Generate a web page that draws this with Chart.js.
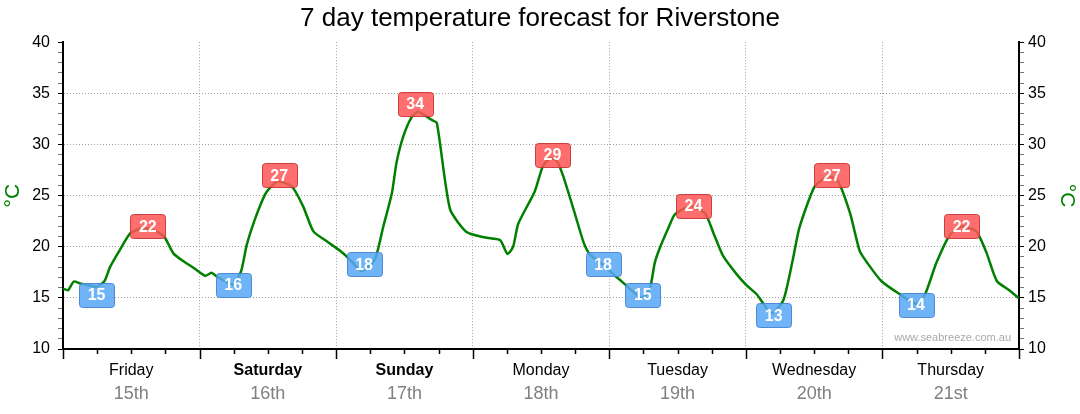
<!DOCTYPE html>
<html>
<head>
<meta charset="utf-8">
<title>7 day temperature forecast for Riverstone</title>
<script src="https://cdn.jsdelivr.net/npm/chart.js@4.4.0/dist/chart.umd.min.js"></script>
<style>
  html, body { margin: 0; padding: 0; background: #fff; }
  #wrap { width: 1080px; height: 414px; }
</style>
</head>
<body>
<div id="wrap"><canvas id="tempChart" width="1080" height="414"></canvas></div>
<script>
// days along the bottom
const dayNames = ["Friday", "Saturday", "Sunday", "Monday", "Tuesday", "Wednesday", "Thursday"];
const dayDates = ["15th", "16th", "17th", "18th", "19th", "20th", "21st"];
const weekendDays = ["Saturday", "Sunday"];

// forecast line: hours since Friday 00:00 and temperature (°C)
const hours = [0, 0.9, 1.9, 3, 6, 7.3, 8.3, 10, 11.8, 13.5, 15.3, 17, 17.9, 19.4, 21.1, 22.9,
  25, 26.1, 27, 29.9, 31.3, 32.3, 33.7, 35.5, 36.7, 37.8, 40.2, 42.2, 44, 46.3, 48.7,
  50.4, 52.5, 54.8, 56.3, 57.8, 58.6, 59.8, 61.3, 62.4, 64.8, 65.7, 68, 70.9,
  74.2, 76.8, 78.1, 79.1, 80, 82.9, 84.3, 85.6, 86.8, 87.9, 90, 91.5, 92.6, 95.2,
  97, 97.8, 98.8, 101.7, 103.1, 104, 104.9, 106.4, 107.5, 110.2, 112.8, 114.3, 116, 118.4,
  120.1, 121.9, 124.5, 126.6, 128.2, 129.4, 132.1, 134.5, 136.2, 138.3, 140, 141.5, 143.8,
  146.8, 150, 151.5, 153.5, 155.9, 157.9, 160.5, 162.3, 164.1, 166.4, 168];
const temps = [15.9, 15.75, 16.6, 16.4, 16.1, 16.65, 18.05, 19.7, 21.3, 21.75, 21.75, 21.3, 20.9, 19.35, 18.6, 17.95,
  17.15, 17.45, 17.1, 16.3, 17.6, 20.2, 22.65, 25.1, 25.95, 26.4, 25.9, 23.95, 21.5, 20.55, 19.6,
  18.75, 17.6, 18.75, 22, 25.25, 28.2, 30.8, 32.7, 33.2, 32.4, 32.1, 23.7, 21.45,
  20.9, 20.65, 19.3, 20, 22.25, 25.4, 27.85, 28.65, 28.35, 26.9, 23.15, 20.4, 19.25, 18.1,
  17.15, 16.8, 16.3, 15, 15.85, 18.45, 19.9, 21.85, 23.15, 23.95, 23.3, 21.35, 19.1, 17.3,
  16.25, 15.35, 13.5, 14.8, 18.6, 21.85, 25.9, 26.9, 26.4, 23.3, 19.6, 18.3, 16.65,
  15.45, 14.4, 15.35, 18.45, 21.2, 22, 21.5, 19.4, 16.65, 15.7, 14.95];

// min / max labels
const minHours = [5.9, 29.9, 52.9, 94.9, 101.9, 124.9, 149.9];
const minTemps = [15, 16, 18, 18, 15, 13, 14];
const maxHours = [14.9, 38, 61.9, 86, 110.8, 135.1, 157.9];
const maxTemps = [22, 27, 34, 29, 24, 27, 22];

const yMin = 10;
const yMax = 40;
const yLabelStep = 5;

const font = "'Liberation Sans', Arial, sans-serif";

const points = hours.map(function (h, i) {
    return { x: h, y: temps[i] };
});

function isLabelTick(v) {
    return v % yLabelStep === 0;
}

// tick marks + day names under the x axis, watermark
const dayAxisPlugin = {
    id: 'dayAxis',
    afterDraw: function (chart) {
        const ctx = chart.ctx;
        const xs = chart.scales.x;
        const area = chart.chartArea;
        ctx.save();
        ctx.strokeStyle = '#000';
        ctx.lineWidth = 1.5;
        for (let h = 0; h <= 168; h += 6) {
            const px = Math.round(xs.getPixelForValue(h)) + 0.5;
            const len = (h % 24 === 0) ? 10 : 5;
            ctx.beginPath();
            ctx.moveTo(px, area.bottom);
            ctx.lineTo(px, area.bottom + len);
            ctx.stroke();
        }
        ctx.textAlign = 'center';
        ctx.textBaseline = 'middle';
        dayNames.forEach(function (name, i) {
            const cx = xs.getPixelForValue(i * 24 + 12);
            const bold = weekendDays.indexOf(name) >= 0;
            ctx.fillStyle = '#000';
            ctx.font = (bold ? 'bold ' : '') + '16px ' + font;
            ctx.fillText(name, cx, area.bottom + 22);
            ctx.fillStyle = '#808080';
            ctx.font = '18px ' + font;
            ctx.fillText(dayDates[i], cx, area.bottom + 45);
        });
        ctx.textAlign = 'right';
        ctx.fillStyle = '#aaa';
        ctx.font = '11px ' + font;
        ctx.fillText('www.seabreeze.com.au', area.right - 8, area.bottom - 11);
        ctx.restore();
    }
};

// red / blue boxes for max and min
const boxPlugin = {
    id: 'tempBoxes',
    afterDatasetsDraw: function (chart) {
        const ctx = chart.ctx;
        const xs = chart.scales.x;
        const ys = chart.scales.y;
        function drawBox(h, v, fill, stroke, shift) {
            const px = xs.getPixelForValue(h);
            const py = ys.getPixelForValue(v) + shift;
            const w = 35, ht = 24;
            ctx.beginPath();
            ctx.roundRect(Math.round(px - w / 2) + 0.5, Math.round(py - ht / 2) + 0.5, w, ht, 3);
            ctx.fillStyle = fill;
            ctx.fill();
            ctx.strokeStyle = stroke;
            ctx.lineWidth = 1;
            ctx.stroke();
            ctx.fillStyle = '#fff';
            ctx.font = 'bold 16px ' + font;
            ctx.textAlign = 'center';
            ctx.textBaseline = 'middle';
            ctx.fillText(String(v), px, py + 1);
        }
        ctx.save();
        minTemps.forEach(function (v, i) {
            drawBox(minHours[i], v, 'rgba(87,167,247,0.85)', 'rgba(70,130,210,0.9)', -3);
        });
        maxTemps.forEach(function (v, i) {
            drawBox(maxHours[i], v, 'rgba(255,85,85,0.85)', 'rgba(200,50,50,0.9)', 0);
        });
        ctx.restore();
    }
};

function yAxis(position, width, pad) {
    return {
        position: position,
        min: yMin,
        max: yMax,
        afterFit: function (scale) { scale.width = width; },
        ticks: {
            stepSize: 1,
            autoSkip: false,
            padding: pad,
            color: '#000',
            font: { family: font, size: 16 },
            callback: function (v) { return isLabelTick(v) ? v : ''; }
        },
        grid: {
            drawOnChartArea: position === 'left',
            tickLength: 5,
            lineWidth: 1,
            color: function (c) {
                const v = c.tick ? c.tick.value : 0;
                return (isLabelTick(v) && v > yMin && v < yMax) ? '#a0a0a0' : 'rgba(0,0,0,0)';
            },
            tickColor: function (c) {
                const v = c.tick ? c.tick.value : 0;
                return isLabelTick(v) ? '#000' : '#777';
            }
        },
        border: { display: true, color: '#000', width: 2, dash: [1, 2] },
        title: {
            display: true,
            text: '°C',
            color: '#008000',
            font: { family: font, size: 21 },
            padding: { top: 1, bottom: 0 }
        }
    };
}

const ctx = document.getElementById('tempChart').getContext('2d');
new Chart(ctx, {
    type: 'line',
    data: {
        datasets: [{
            label: 'Temperature',
            data: points,
            borderColor: '#008000',
            borderWidth: 2.5,
            pointRadius: 0,
            tension: 0.2,
            fill: false
        }]
    },
    options: {
        responsive: false,
        animation: false,
        devicePixelRatio: 1,
        layout: { padding: 0 },
        plugins: {
            legend: { display: false },
            tooltip: { enabled: false },
            title: {
                display: true,
                text: '7 day temperature forecast for Riverstone',
                color: '#000',
                font: { family: font, size: 26, weight: 'normal' },
                padding: { top: 3, bottom: 8 }
            }
        },
        scales: {
            x: {
                type: 'linear',
                min: 0,
                max: 168,
                afterFit: function (scale) { scale.height = 65; },
                ticks: { display: false, stepSize: 24 },
                grid: {
                    drawTicks: false,
                    lineWidth: 1,
                    color: function (c) {
                        const v = c.tick ? c.tick.value : 0;
                        return (v > 0 && v < 168) ? '#a0a0a0' : 'rgba(0,0,0,0)';
                    }
                },
                border: { display: true, color: '#000', width: 2, dash: [1, 2] }
            },
            y: yAxis('left', 63, 8),
            y2: yAxis('right', 61, 4)
        }
    },
    plugins: [boxPlugin, dayAxisPlugin]
});
</script>
</body>
</html>
